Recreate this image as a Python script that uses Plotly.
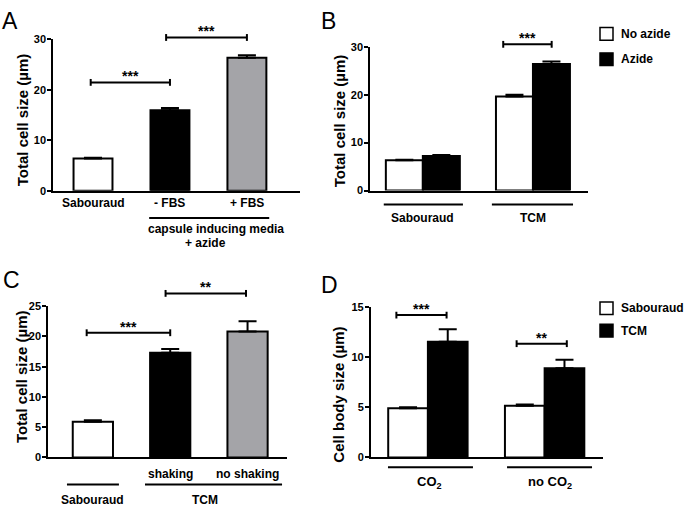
import plotly.graph_objects as go

W, H = 688, 512
FONT = "Liberation Sans, Arial, Helvetica, sans-serif"
NARROW = "Liberation Sans Narrow, Arial Narrow, Liberation Sans, Arial, sans-serif"
GRAY = "#a4a4a8"

# ---------------- data ----------------
# Panel A
a_cats = ["Sabouraud", "- FBS", "+ FBS"]
a_vals = [6.4, 16.0, 26.4]
a_err = [0.15, 0.4, 0.5]
a_colors = ["white", "black", GRAY]
a_sig_from = [-0.03, 0.95]
a_sig_to = [1.0, 2.0]
a_sig_y = [21.5, 30.4]
a_sig_txt = ["***", "***"]

# Panel B
b_groups = ["Sabouraud", "TCM"]
b_series = ["No azide", "Azide"]
b_noazide = [6.3, 19.6]
b_noazide_err = [0.15, 0.4]
b_azide = [7.2, 26.4]
b_azide_err = [0.2, 0.5]
b_sig_from = [0.73]
b_sig_to = [1.17]
b_sig_y = [30.5]
b_sig_txt = ["***"]

# Panel C
c_cats = ["", "shaking", "no shaking"]
c_group_labels = ["Sabouraud", "TCM"]
c_vals = [5.9, 17.3, 20.8]
c_err = [0.25, 0.6, 1.7]
c_colors = ["white", "black", GRAY]
c_sig_from = [-0.08, 0.94]
c_sig_to = [1.0, 1.98]
c_sig_y = [20.6, 27.1]
c_sig_txt = ["***", "**"]

# Panel D
d_groups = ["CO<sub>2</sub>", "no CO<sub>2</sub>"]
d_series = ["Sabouraud", "TCM"]
d_sab = [4.9, 5.15]
d_sab_err = [0.12, 0.12]
d_tcm = [11.55, 8.9]
d_tcm_err = [1.25, 0.85]
d_sig_from = [-0.27, 0.76]
d_sig_to = [0.16, 1.19]
d_sig_y = [14.2, 11.35]
d_sig_txt = ["***", "**"]

# ---------------- geometry (pixels) ----------------
P = {
    "A": dict(xa="x", ya="y", l=53, r=300, top=34.3, bot=189.3, xr=[-0.52, 2.69], ymax=30, dt=10),
    "B": dict(xa="x2", ya="y2", l=370, r=588, top=41.7, bot=189.0, xr=[-0.48, 1.5], ymax=30, dt=10),
    "C": dict(xa="x3", ya="y3", l=48, r=287, top=307.3, bot=462.3, xr=[-0.58, 2.51], ymax=25, dt=5),
    "D": dict(xa="x4", ya="y4", l=370.7, r=603, top=308.3, bot=462.3, xr=[-0.49, 1.5], ymax=15, dt=5),
}


def ypx(px):
    return (H - px) / H


def yval(p, v):
    px = p["bot"] - v / p["ymax"] * (p["bot"] - p["top"])
    return ypx(px)


fig = go.Figure()
LINE = dict(color="black", width=2)


def err(arr):
    return dict(type="data", array=arr, arrayminus=[0] * len(arr), symmetric=False,
                color="black", thickness=2, width=9)


# Panel A bars
fig.add_trace(go.Bar(x=list(range(len(a_vals))), y=a_vals, width=0.506,
                     marker=dict(color=a_colors, line=LINE), error_y=err(a_err),
                     xaxis="x", yaxis="y", showlegend=False))
# Panel B bars
bx = list(range(len(b_groups)))
fig.add_trace(go.Bar(x=bx, y=b_noazide, width=0.336, offset=-0.336, name=b_series[0],
                     marker=dict(color="white", line=LINE), error_y=err(b_noazide_err),
                     xaxis="x2", yaxis="y2", showlegend=False))
fig.add_trace(go.Bar(x=bx, y=b_azide, width=0.336, offset=0.0, name=b_series[1],
                     marker=dict(color="black", line=LINE), error_y=err(b_azide_err),
                     xaxis="x2", yaxis="y2", showlegend=False))
# Panel C bars
fig.add_trace(go.Bar(x=list(range(len(c_vals))), y=c_vals, width=0.52,
                     marker=dict(color=c_colors, line=LINE), error_y=err(c_err),
                     xaxis="x3", yaxis="y3", showlegend=False))
# Panel D bars
dx = list(range(len(d_groups)))
fig.add_trace(go.Bar(x=dx, y=d_sab, width=0.34, offset=-0.34, name=d_series[0],
                     marker=dict(color="white", line=LINE), error_y=err(d_sab_err),
                     xaxis="x4", yaxis="y4", showlegend=False))
fig.add_trace(go.Bar(x=dx, y=d_tcm, width=0.34, offset=0.0, name=d_series[1],
                     marker=dict(color="black", line=LINE), error_y=err(d_tcm_err),
                     xaxis="x4", yaxis="y4", showlegend=False))

shapes = []
annotations = []

# axes
for k, p in P.items():
    n = p["xa"][1:]
    xdom = [p["l"] / W, p["r"] / W]
    ydom = [ypx(p["bot"]), ypx(p["top"])]
    fig.update_layout(**{
        "xaxis" + n: dict(domain=xdom, range=p["xr"], anchor=p["ya"], showline=True,
                          linecolor="black", linewidth=1.5, showticklabels=False, ticks="",
                          showgrid=False, zeroline=False, fixedrange=True),
        "yaxis" + n: dict(domain=ydom, range=[0, p["ymax"]], anchor=p["xa"], showline=True,
                          linecolor="black", linewidth=1.5, ticks="outside", ticklen=4,
                          tickwidth=1.5, tickcolor="black", ticklabelstandoff=-1,
                          tickvals=list(range(0, p["ymax"] + 1, p["dt"])),
                          tickfont=dict(family=FONT, size=11, color="black", weight="bold"),
                          showgrid=False, zeroline=False, fixedrange=True),
    })


# significance brackets
def brackets(p, x0s, x1s, hs, txts):
    for x0, x1, h, t in zip(x0s, x1s, hs, txts):
        yy = yval(p, h)
        d = 3.5 / H
        shapes.append(dict(type="line", xref=p["xa"], yref="paper", x0=x0, x1=x1, y0=yy, y1=yy,
                           line=dict(color="black", width=2)))
        for xe in (x0, x1):
            shapes.append(dict(type="line", xref=p["xa"], yref="paper", x0=xe, x1=xe,
                               y0=yy - d, y1=yy + d, line=dict(color="black", width=2)))
        annotations.append(dict(x=(x0 + x1) / 2, y=yy, xref=p["xa"], yref="paper", text=t,
                                showarrow=False, yanchor="bottom", yshift=-4,
                                font=dict(family=FONT, size=14, color="black", weight="bold")))


brackets(P["A"], a_sig_from, a_sig_to, a_sig_y, a_sig_txt)
brackets(P["B"], b_sig_from, b_sig_to, b_sig_y, b_sig_txt)
brackets(P["C"], c_sig_from, c_sig_to, c_sig_y, c_sig_txt)
brackets(P["D"], d_sig_from, d_sig_to, d_sig_y, d_sig_txt)


def label(xref, x, ypix, text, size=12, family=FONT):
    annotations.append(dict(x=x, y=ypx(ypix), xref=xref, yref="paper", text=text,
                            showarrow=False, xanchor="center", yanchor="middle",
                            font=dict(family=family, size=size, color="black", weight="bold")))


def gline(xref, x0, x1, ypix):
    shapes.append(dict(type="line", xref=xref, yref="paper", x0=x0, x1=x1,
                       y0=ypx(ypix), y1=ypx(ypix), line=dict(color="black", width=2)))


# Panel A category labels
for i, t in enumerate(a_cats):
    label("x", i, 202, t)
gline("x", 0.73, 2.29, 217)
label("x", 1.6, 228, "capsule inducing media")
label("x", 1.46, 243, "+ azide")

# Panel B group labels
gline("x2", -0.355, 0.364, 203.3)
gline("x2", 1 - 0.373, 1 + 0.364, 203.3)
for i, t in enumerate(b_groups):
    label("x2", i, 217, t)

# Panel C labels
for i, t in enumerate(c_cats):
    if t:
        label("x3", i, 479, t)
gline("x3", -0.335, 0.337, 490)
gline("x3", 0.674, 2.446, 490)
label("x3", 0, 506, c_group_labels[0])
label("x3", 1.45, 506, c_group_labels[1])

# Panel D labels
gline("x4", -0.342, 0.386, 472.3)
gline("x4", 0.678, 1.406, 472.3)
label("x4", 0.01, 488, d_groups[0], size=13)
label("x4", 1.05, 488, d_groups[1], size=13)


# y-axis titles
def ytitle(xpix, ycen, text, family=FONT, size=15):
    annotations.append(dict(x=xpix / W, y=ypx(ycen), xref="paper", yref="paper", text=text,
                            showarrow=False, textangle=-90, xanchor="center", yanchor="middle",
                            font=dict(family=family, size=size, color="black", weight="bold")))


ytitle(22, 117, "Total cell size (µm)")
ytitle(339, 118, "Total cell size (µm)")
ytitle(21, 380, "Total cell size (µm)")
ytitle(339, 398, "Cell body size (µm)", family=NARROW)

# panel letters
for txt, xp, yp in [("A", 0, 0), ("B", 319, 0), ("C", 1, 265), ("D", 319, 270)]:
    annotations.append(dict(x=xp / W, y=ypx(yp), xref="paper", yref="paper", text=txt,
                            showarrow=False, xanchor="left", yanchor="top",
                            font=dict(family=FONT, size=23, color="black")))


# legends (manual swatches)
def legend_item(x0, y0, fill, text):
    shapes.append(dict(type="rect", xref="paper", yref="paper", x0=x0 / W, x1=(x0 + 13) / W,
                       y0=ypx(y0 + 13), y1=ypx(y0), fillcolor=fill,
                       line=dict(color="black", width=1.5)))
    annotations.append(dict(x=(x0 + 19) / W, y=ypx(y0 + 6.5), xref="paper", yref="paper",
                            text=text, showarrow=False, xanchor="left", yanchor="middle",
                            font=dict(family=FONT, size=12, color="black", weight="bold")))


legend_item(600, 22, "white", b_series[0])
legend_item(600, 48, "black", b_series[1])
legend_item(600, 303, "white", d_series[0])
legend_item(600, 326, "black", d_series[1])

fig.update_layout(width=W, height=H, autosize=False, margin=dict(l=0, r=0, t=0, b=0),
                  paper_bgcolor="white", plot_bgcolor="white", barmode="overlay",
                  shapes=shapes, annotations=annotations,
                  font=dict(family=FONT, color="black"))

fig.write_html("out.html", config={"displayModeBar": False},
               post_script="document.body.style.margin='0px';document.body.style.overflow='hidden';")
